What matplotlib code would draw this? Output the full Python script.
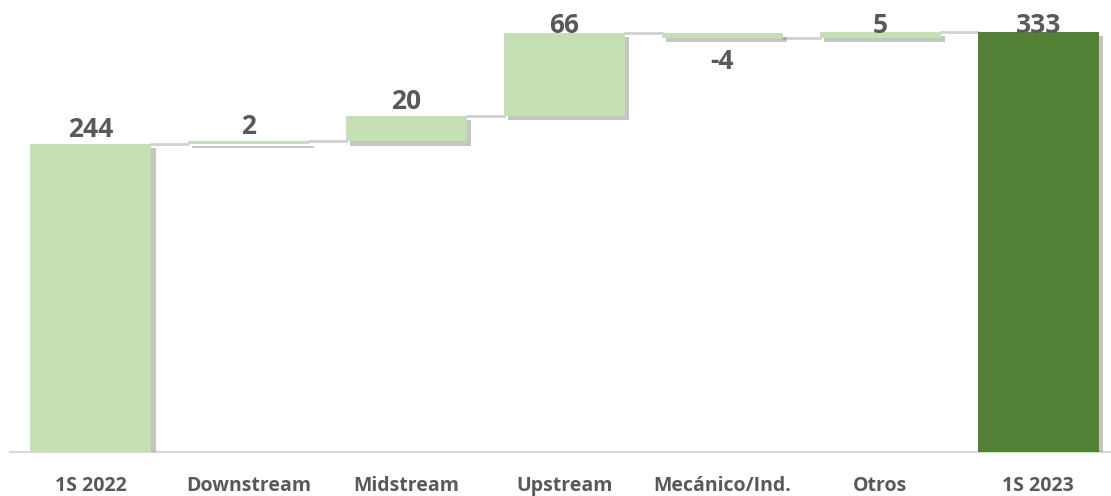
import matplotlib.pyplot as plt
import matplotlib.patheffects as pe
import numpy as np

plt.rcParams['font.family'] = ['Open Sans', 'DejaVu Sans']

### Données
categorias = ['1S 2022', 'Downstream', 'Midstream', 'Upstream', 'Mecánico/Ind.', 'Otros', '1S 2023']
valores = [244, 2, 20, 66, -4, 5, 333]
es_total = [True, False, False, False, False, False, True]

### Couleurs
verde_claro = '#C5E0B4'
verde_oscuro = '#538135'
gris_texto = '#595959'

fig = plt.figure(figsize=(11.11, 4.96), dpi=100)
ax = fig.add_axes([0.009, 0.0887, 0.991, 0.9113])

x = np.arange(len(categorias))
ancho = 0.77
sombra = [pe.SimplePatchShadow(offset=(3, -3), shadow_rgbFace='#7f7f7f', alpha=0.45), pe.Normal()]

acum = 0
niveles = []
for i, v in enumerate(valores):
    if es_total[i]:
        base = 0
        alto = v
        acum = v
        color = verde_oscuro if i == len(valores) - 1 else verde_claro
    else:
        base = acum if v >= 0 else acum + v
        alto = abs(v)
        acum = acum + v
        color = verde_claro
    ax.bar(x[i], alto, width=ancho, bottom=base, color=color, zorder=3, path_effects=sombra)
    niveles.append(acum)
    # etiqueta
    if v >= 0:
        ytxt = min(base + alto + 1, 327)
        ax.text(x[i], ytxt, str(v), ha='center', va='bottom', fontsize=19, fontweight='bold', color=gris_texto, zorder=5)
    else:
        ax.text(x[i], base - 8, str(v), ha='center', va='top', fontsize=19, fontweight='bold', color=gris_texto, zorder=5)

# conectores
for i in range(len(valores) - 1):
    ax.plot([x[i] + ancho / 2, x[i + 1] - ancho / 2], [niveles[i], niveles[i]], color='#d0d0d0', lw=2, zorder=2)

ax.set_xlim(-0.51, 6.46)
ax.set_ylim(0, 358)
ax.set_yticks([])
ax.set_xticks(x)
ax.set_xticklabels(categorias, fontsize=14, fontweight='bold', color=gris_texto)
ax.tick_params(axis='x', length=0, pad=17)
for s in ['top', 'right', 'left']:
    ax.spines[s].set_visible(False)
ax.spines['bottom'].set_color('#d9d9d9')
ax.spines['bottom'].set_linewidth(1.5)

fig.savefig('out.png', dpi=100)
